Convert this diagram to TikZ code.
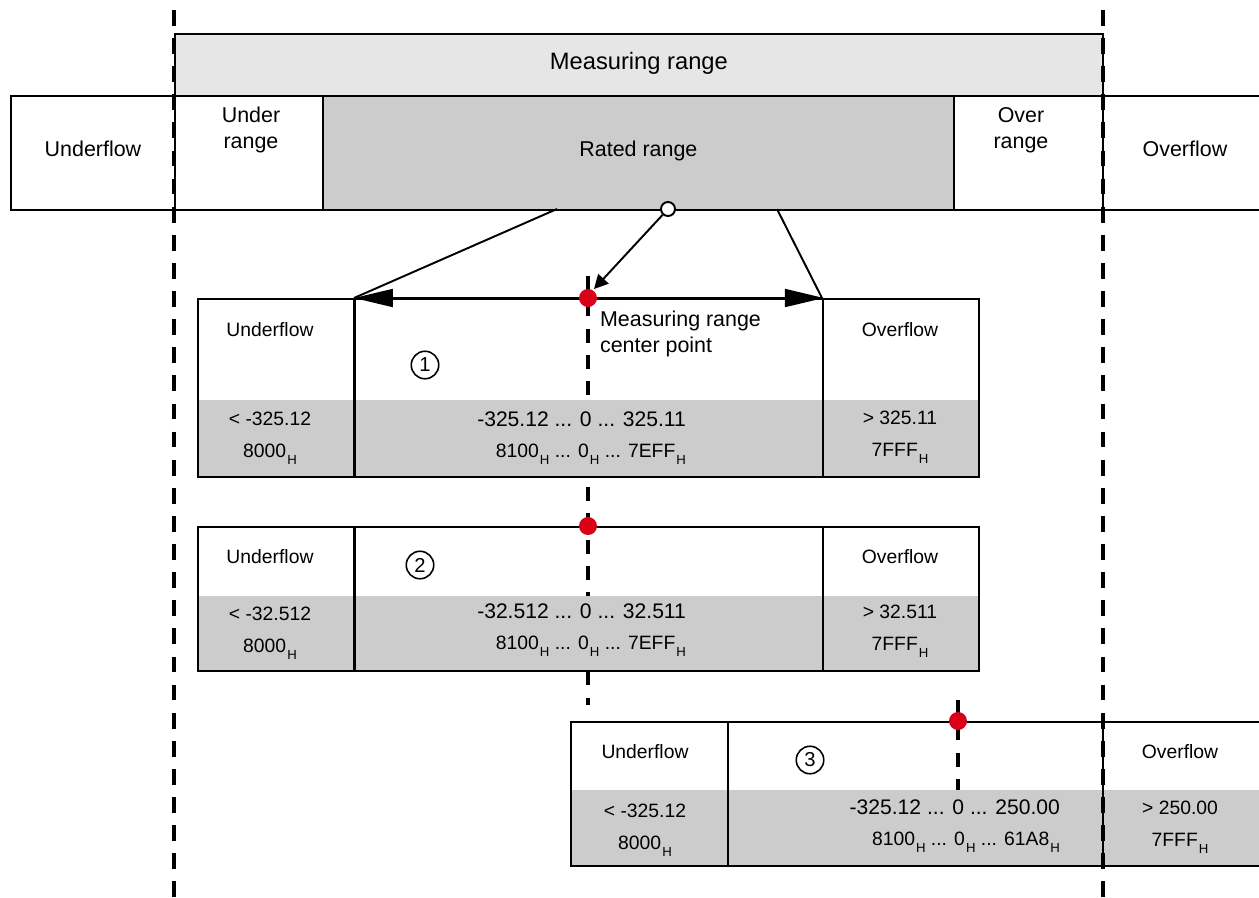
\documentclass[tikz,border=0pt]{standalone}
\usepackage{fontspec}
\setmainfont{Liberation Sans}
\usetikzlibrary{arrows.meta, positioning}

\definecolor{rangegray}{HTML}{E6E6E6}
\definecolor{ratedgray}{HTML}{CCCCCC}
\definecolor{centerred}{HTML}{DA0018}
\newcommand{\hsub}{\hspace{0.6pt}\raisebox{-4pt}{\fontsize{7.5}{7.5}\selectfont H}}

\begin{document}
\begin{tikzpicture}[
    x=0.02cm, y=-0.02cm,
    font=\fontsize{12.2}{14.5}\selectfont,
    cell/.style={draw, line width=1.1pt, anchor=north west, inner sep=0pt, text depth=4.5pt},
    txt/.style={inner sep=1pt, align=center},
    boxtxt/.style={txt, font=\fontsize{11}{18}\selectfont},
    midval/.style={txt, align=right, anchor=east, font=\fontsize{12}{18}\selectfont},
    num/.style={circle, draw, line width=0.9pt, minimum size=0.55cm, inner sep=0pt, font=\fontsize{11.5}{11.5}\selectfont},
    cdot/.style={circle, fill=centerred, minimum size=0.36cm, inner sep=0pt},
    limitline/.style={line width=2.2pt, dash pattern=on 9pt off 7pt},
    centerline/.style={line width=2pt, dash pattern=on 8pt off 7pt},
    bigarrow/.style={line width=1.1pt, {Triangle[length=0.78cm, width=0.36cm]}-{Triangle[length=0.78cm, width=0.36cm]}},
    arrow/.style={line width=1.1pt, -{Triangle[length=0.28cm, width=0.28cm]}}
]
\useasboundingbox (0,0) rectangle (1259,897);

% guide coordinates
\coordinate (lim1top) at (174,10);
\coordinate (lim1bot) at (174,897);
\coordinate (lim2top) at (1103,10);
\coordinate (lim2bot) at (1103,897);
\coordinate (c1top) at (588,276);
\coordinate (c1bot) at (588,705);
\coordinate (c3top) at (958,700);
\coordinate (c3bot) at (958,790);

% center lines (hidden behind the grey value bands)
\draw[centerline] (c1top) -- (c1bot);
\draw[centerline] (c3top) -- (c3bot);

% value bands
\fill[ratedgray] (197,400) rectangle (978,476);
\fill[ratedgray] (197,596) rectangle (978,670);
\fill[ratedgray] (570,790) rectangle (1262,865);

% measuring range
\node[cell, fill=rangegray, minimum width=18.56cm, minimum height=1.24cm, font=\fontsize{13.5}{16}\selectfont] (meas) at (174,33) {Measuring range};
\node[cell, minimum width=3.28cm, minimum height=2.28cm] (uflow) at (10,95) {Underflow};
\node[cell, minimum width=2.96cm, minimum height=2.28cm] (urng) at (174,95) {};
\node[cell, fill=ratedgray, minimum width=12.62cm, minimum height=2.28cm] (rated) at (322,95) {Rated range};
\node[cell, minimum width=2.98cm, minimum height=2.28cm] (orng) at (953,95) {};
\node[cell, minimum width=3.28cm, minimum height=2.28cm] (oflow) at (1102,95) {Overflow};
\node[txt] (urngtxt) at (251,130) {Under\\range};
\node[txt] (orngtxt) at (1021,130) {Over\\range};

% box 1
\node[cell, minimum width=3.14cm, minimum height=3.56cm] (b1u) at (197,298) {};
\node[cell, minimum width=9.36cm, minimum height=3.56cm] (b1m) at (354,298) {};
\node[cell, minimum width=3.12cm, minimum height=3.56cm] (b1o) at (822,298) {};
\draw[line width=1.7pt] (b1m.north west) -- (b1m.south west);
\node[boxtxt] (b1utxt) at (270,330) {Underflow};
\node[boxtxt] (b1uval) at (270,438) {< -325.12\\8000\hsub};
\node[num] (n1) at (425,365) {1};
\node[midval] (b1mval) at (688,438) {-325.12 ... 0 ... 325.11\\{\fontsize{11}{18}\selectfont 8100\hsub{} ... 0\hsub{} ... 7EFF\hsub}};
\node[boxtxt] (b1otxt) at (900,330) {Overflow};
\node[boxtxt] (b1oval) at (900,437) {> 325.11\\7FFF\hsub};
\node[txt, align=left, anchor=north west] (ctrtxt) at (598,309) {Measuring range\\center point};

% box 2
\node[cell, minimum width=3.14cm, minimum height=2.88cm] (b2u) at (197,526) {};
\node[cell, minimum width=9.36cm, minimum height=2.88cm] (b2m) at (354,526) {};
\node[cell, minimum width=3.12cm, minimum height=2.88cm] (b2o) at (822,526) {};
\draw[line width=1.7pt] (b2m.north west) -- (b2m.south west);
\node[boxtxt] (b2utxt) at (270,557) {Underflow};
\node[boxtxt] (b2uval) at (270,633) {< -32.512\\8000\hsub};
\node[num] (n2) at (420,565) {2};
\node[midval] (b2mval) at (688,630) {-32.512 ... 0 ... 32.511\\{\fontsize{11}{18}\selectfont 8100\hsub{} ... 0\hsub{} ... 7EFF\hsub}};
\node[boxtxt] (b2otxt) at (900,557) {Overflow};
\node[boxtxt] (b2oval) at (900,631) {> 32.511\\7FFF\hsub};

% box 3
\node[cell, minimum width=3.14cm, minimum height=2.88cm] (b3u) at (570,721) {};
\node[cell, minimum width=7.5cm, minimum height=2.88cm] (b3m) at (727,721) {};
\node[cell, minimum width=3.14cm, minimum height=2.88cm] (b3o) at (1102,721) {};
\node[boxtxt] (b3utxt) at (645,752) {Underflow};
\node[boxtxt] (b3uval) at (645,830) {< -325.12\\8000\hsub};
\node[num] (n3) at (810,760) {3};
\node[midval] (b3mval) at (1062,826) {-325.12 ... 0 ... 250.00\\{\fontsize{11}{18}\selectfont 8100\hsub{} ... 0\hsub{} ... 61A8\hsub}};
\node[boxtxt] (b3otxt) at (1180,752) {Overflow};
\node[boxtxt] (b3oval) at (1180,827) {> 250.00\\7FFF\hsub};

% rated range spread onto box 1
\coordinate (ratedl) at (557,209);
\coordinate (ratedr) at (777,209);
\coordinate (ctrtip) at (594,289);
\draw[line width=1.1pt] (ratedl) -- (b1m.north west);
\draw[line width=1.1pt] (ratedr) -- (b1o.north west);
\draw[bigarrow] (b1m.north west) -- (b1m.north east);
\node[circle, draw, fill=white, line width=1.1pt, minimum size=0.28cm, inner sep=0pt] (pick) at (668,209) {};
\draw[arrow] (pick) -- (ctrtip);

% limits of the measuring range
\draw[limitline] (lim1top) -- (lim1bot);
\draw[limitline] (lim2top) -- (lim2bot);

% center points
\node[cdot] (ctr1) at (588,298) {};
\node[cdot] (ctr2) at (588,526) {};
\node[cdot] (ctr3) at (958,721) {};
\end{tikzpicture}
\end{document}
